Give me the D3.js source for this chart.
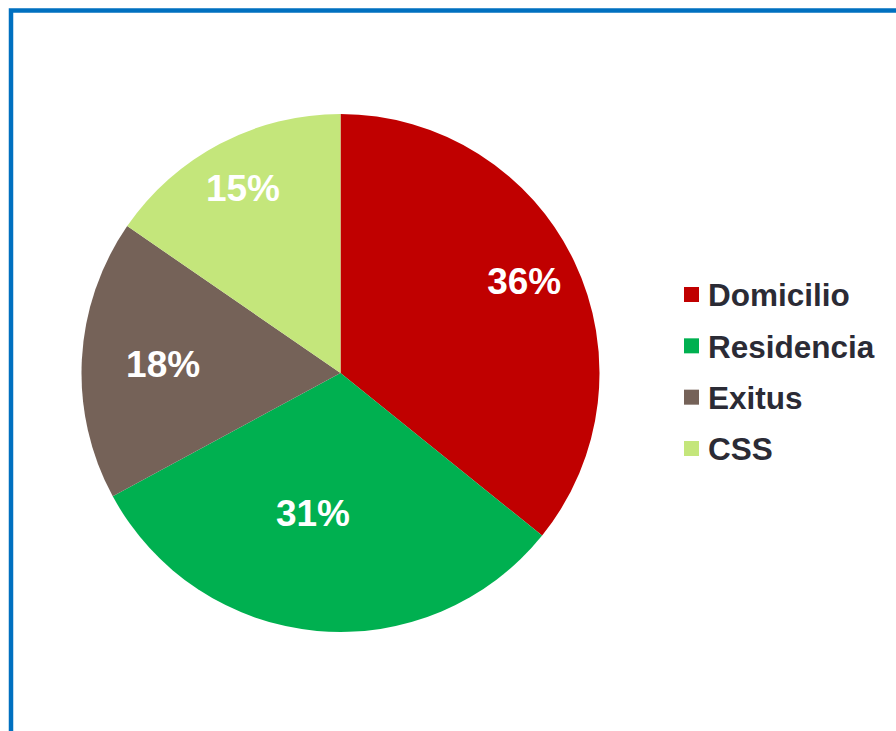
<!DOCTYPE html>
<html>
<head>
<meta charset="utf-8">
<script src="https://cdn.jsdelivr.net/npm/d3@7"></script>
<style>
  html, body { margin: 0; padding: 0; background: #fff; }
  svg { display: block; }
</style>
</head>
<body>
<div id="chart"></div>
<script>
const width = 896;
const height = 731;

// slice data, clockwise from 12 o'clock
const categories = ["Domicilio", "Residencia", "Exitus", "CSS"];
const values = [35.8, 31.3, 17.5, 15.4];
const colors = ["#C00000", "#00B050", "#756258", "#C4E67B"];

// label placement (excel "best fit"): share of radius + angle nudge in degrees
const labelPos = [0.793, 0.551, 0.686, 0.81];
const labelTurn = [-1, 5.9, 0, 0];

const cx = 340.5, cy = 373, radius = 259;

const svg = d3.select("#chart").append("svg")
    .attr("width", width)
    .attr("height", height);

// blue frame (right / bottom edges run off the picture)
svg.append("rect")
    .attr("x", 11)
    .attr("y", 10.5)
    .attr("width", 900)
    .attr("height", 740)
    .attr("fill", "none")
    .attr("stroke", "#0070C0")
    .attr("stroke-width", 4.5);

const data = categories.map((c, i) => ({
  name: c, value: values[i], color: colors[i], lp: labelPos[i], lt: labelTurn[i]
}));

const pie = d3.pie().sort(null).value(d => d.value);
const arc = d3.arc().innerRadius(0).outerRadius(radius);

const total = d3.sum(values);

function labelXY(d) {
  const a = (d.startAngle + d.endAngle) / 2 + d.data.lt * Math.PI / 180;
  const r = radius * d.data.lp;
  return [Math.sin(a) * r, -Math.cos(a) * r];
}

let g = svg.append("g").attr("transform", `translate(${cx},${cy})`);

g.selectAll("path")
    .data(pie(data))
  .enter().append("path")
    .attr("d", arc)
    .attr("fill", d => d.data.color);

g.selectAll("text")
    .data(pie(data))
  .enter().append("text")
    .attr("transform", d => `translate(${labelXY(d)})`)
    .attr("text-anchor", "middle")
    .attr("dy", "0.36em")
    .attr("fill", "#fff")
    .style("font-family", "Liberation Sans, Arial, sans-serif")
    .style("font-weight", "bold")
    .style("font-size", "37px")
    .text(d => Math.round(d.data.value / total * 100) + "%");

// legend
const legend = svg.append("g").attr("transform", "translate(684,0)");
const rowY = d3.scalePoint().domain(categories).range([295, 449]);

const item = legend.selectAll("g")
    .data(data)
  .enter().append("g")
    .attr("transform", d => `translate(0,${rowY(d.name)})`);

item.append("rect")
    .attr("x", 0)
    .attr("y", -8)
    .attr("width", 15)
    .attr("height", 15)
    .attr("fill", d => d.color);

item.append("text")
    .attr("x", 24)
    .attr("dy", "0.36em")
    .attr("fill", "#2B2B35")
    .style("font-family", "Liberation Sans, Arial, sans-serif")
    .style("font-weight", "bold")
    .style("font-size", "31.5px")
    .text(d => d.name);
</script>
</body>
</html>
